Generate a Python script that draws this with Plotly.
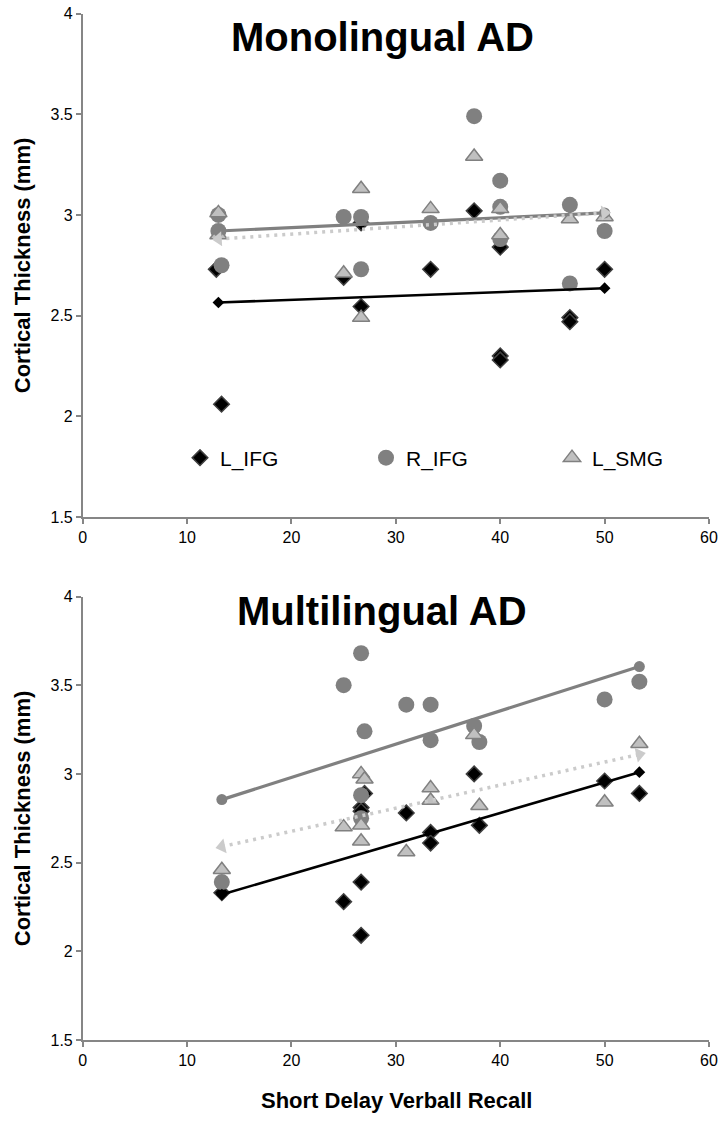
import math
import plotly.graph_objects as go

# ---------------- data ----------------
# Monolingual AD (top panel)
mono_lifg_x = [12.8, 13.3, 25, 26.67, 26.67, 33.33, 37.5, 40, 40, 40, 46.67, 46.67, 50]
mono_lifg_y = [2.73, 2.06, 2.69, 2.96, 2.545, 2.73, 3.02, 2.84, 2.30, 2.28, 2.49, 2.47, 2.73]
mono_rifg_x = [13, 13, 13.3, 25, 26.67, 26.67, 33.33, 37.5, 40, 40, 40, 46.67, 46.67, 50]
mono_rifg_y = [3.0, 2.92, 2.75, 2.99, 2.99, 2.73, 2.96, 3.49, 3.17, 3.04, 2.88, 3.05, 2.66, 2.92]
mono_lsmg_x = [13, 13, 25, 26.67, 26.67, 33.33, 37.5, 40, 40, 46.67, 50]
mono_lsmg_y = [3.01, 2.90, 2.71, 3.13, 2.49, 3.03, 3.29, 3.03, 2.90, 2.98, 2.99]
mono_fit_x = [13, 50]
mono_lifg_fit = [2.565, 2.636]
mono_rifg_fit = [2.92, 3.01]
mono_lsmg_fit = [2.88, 3.01]

# Multilingual AD (bottom panel)
multi_lifg_x = [13.33, 25, 26.67, 26.67, 27, 26.67, 26.67, 31, 33.33, 33.33, 37.5, 38, 50, 53.33]
multi_lifg_y = [2.33, 2.28, 2.81, 2.79, 2.89, 2.39, 2.09, 2.78, 2.67, 2.61, 3.0, 2.71, 2.96, 2.89]
multi_rifg_x = [13.33, 25, 26.67, 27, 26.67, 26.67, 31, 33.33, 33.33, 37.5, 38, 50, 53.33]
multi_rifg_y = [2.39, 3.50, 3.68, 3.24, 2.88, 2.75, 3.39, 3.39, 3.19, 3.27, 3.18, 3.42, 3.52]
multi_lsmg_x = [13.33, 25, 26.67, 27, 26.67, 26.67, 31, 33.33, 33.33, 37.5, 38, 50, 53.33]
multi_lsmg_y = [2.46, 2.70, 3.0, 2.97, 2.71, 2.62, 2.56, 2.92, 2.85, 3.22, 2.82, 2.84, 3.17]
multi_fit_x = [13.33, 53.33]
multi_lifg_fit = [2.32, 3.01]
multi_rifg_fit = [2.855, 3.605]
multi_lsmg_fit = [2.59, 3.11]

series_names = ["L_IFG", "R_IFG", "L_SMG"]
panel_titles = ["Monolingual AD", "Multilingual AD"]
x_ticks = [0, 10, 20, 30, 40, 50, 60]
y_ticks = [1.5, 2, 2.5, 3, 3.5, 4]
y_title = "Cortical Thickness (mm)"
x_title = "Short Delay Verball Recall"

# ---------------- layout geometry ----------------
W, H = 721, 1125
X_LEFT, X_RIGHT = 82.7, 709     # pixel columns for x=0 and x=60
TOP_Y0, TOP_Y1 = 13.5, 517      # pixel rows for y=4 and y=1.5
BOT_Y0, BOT_Y1 = 596.5, 1040
XR = [0, 60]
YR = [1.5, 4]

FONT = "Liberation Sans, Arial, Helvetica, sans-serif"
AXIS_GRAY = "#868686"
C_DARK = "#000000"
C_MID = "#808080"
C_LIGHT = "#c0c0c0"
C_DOT = "#cbcbcb"

fig = go.Figure()


def add_panel(xa, ya, lifg, rifg, lsmg, fit_x, fits, show_legend, py0, py1):
    (lx, ly), (rx, ry), (sx, sy) = lifg, rifg, lsmg
    fit_l, fit_r, fit_s = fits
    fig.add_trace(go.Scatter(
        x=lx, y=ly, mode="markers", name=series_names[0], xaxis=xa, yaxis=ya,
        showlegend=show_legend, legendgroup="a",
        marker=dict(symbol="diamond", size=12, color=C_DARK,
                    line=dict(color="#404040", width=1.5))))
    fig.add_trace(go.Scatter(
        x=rx, y=ry, mode="markers", name=series_names[1], xaxis=xa, yaxis=ya,
        showlegend=show_legend, legendgroup="b",
        marker=dict(symbol="circle", size=16, color=C_MID,
                    line=dict(color=C_MID, width=0))))
    fig.add_trace(go.Scatter(
        x=sx, y=sy, mode="markers", name=series_names[2], xaxis=xa, yaxis=ya,
        showlegend=show_legend, legendgroup="c",
        marker=dict(symbol="triangle-up", size=15, color=C_LIGHT,
                    line=dict(color=C_MID, width=1.5))))
    # fitted lines
    fig.add_trace(go.Scatter(
        x=fit_x, y=fit_r, mode="lines+markers", xaxis=xa, yaxis=ya, showlegend=False,
        line=dict(color=C_MID, width=3.2),
        marker=dict(symbol="circle", size=11, color=C_MID)))
    fig.add_trace(go.Scatter(
        x=fit_x, y=fit_l, mode="lines+markers", xaxis=xa, yaxis=ya, showlegend=False,
        line=dict(color=C_DARK, width=2.6),
        marker=dict(symbol="diamond", size=9, color=C_DARK)))
    # dotted line with arrow heads, oriented along the line in pixel space
    ppx = (X_RIGHT - X_LEFT) / (XR[1] - XR[0])
    ppy = (py1 - py0) / (YR[1] - YR[0])
    ang = -math.degrees(math.atan2((fit_s[1] - fit_s[0]) * ppy, (fit_x[1] - fit_x[0]) * ppx))
    fig.add_trace(go.Scatter(
        x=fit_x, y=fit_s, mode="lines", xaxis=xa, yaxis=ya, showlegend=False,
        line=dict(color=C_DOT, width=3.5, dash="3px,5px")))
    fig.add_trace(go.Scatter(
        x=fit_x, y=fit_s, mode="markers", xaxis=xa, yaxis=ya, showlegend=False,
        marker=dict(symbol=["triangle-left", "triangle-right"], size=13,
                    color=C_DOT, angle=[ang, ang])))


add_panel("x", "y", (mono_lifg_x, mono_lifg_y), (mono_rifg_x, mono_rifg_y),
          (mono_lsmg_x, mono_lsmg_y), mono_fit_x,
          (mono_lifg_fit, mono_rifg_fit, mono_lsmg_fit), True, TOP_Y0, TOP_Y1)
add_panel("x2", "y2", (multi_lifg_x, multi_lifg_y), (multi_rifg_x, multi_rifg_y),
          (multi_lsmg_x, multi_lsmg_y), multi_fit_x,
          (multi_lifg_fit, multi_rifg_fit, multi_lsmg_fit), False, BOT_Y0, BOT_Y1)


def pfy(py):
    return 1 - py / H


def pfx(px):
    return px / W


axis_common = dict(showgrid=False, zeroline=False, showline=True, linecolor=AXIS_GRAY,
                   linewidth=1.5, ticks="outside", ticklen=5, tickcolor=AXIS_GRAY,
                   tickwidth=1.5, tickfont=dict(family=FONT, size=16, color="#000000"),
                   ticklabeloverflow="allow", fixedrange=True)

xdom = [pfx(X_LEFT), pfx(X_RIGHT)]
fig.update_layout(
    width=W, height=H, autosize=False,
    margin=dict(l=0, r=0, t=0, b=0, autoexpand=False),
    paper_bgcolor="white", plot_bgcolor="white",
    xaxis=dict(domain=xdom, range=XR, tickvals=x_ticks, anchor="y", **axis_common),
    yaxis=dict(domain=[pfy(TOP_Y1), pfy(TOP_Y0)], range=YR, tickvals=y_ticks,
               ticktext=[str(v) for v in y_ticks], anchor="x", **axis_common),
    xaxis2=dict(domain=xdom, range=XR, tickvals=x_ticks, anchor="y2", **axis_common),
    yaxis2=dict(domain=[pfy(BOT_Y1), pfy(BOT_Y0)], range=YR, tickvals=y_ticks,
                ticktext=[str(v) for v in y_ticks], anchor="x2", **axis_common),
    legend=dict(orientation="h", x=pfx(180), xanchor="left", y=pfy(458), yanchor="middle",
                entrywidth=141, entrywidthmode="pixels", itemwidth=30,
                bgcolor="rgba(0,0,0,0)", font=dict(family=FONT, size=21, color="#000000"),
                tracegroupgap=0),
    showlegend=True,
)

annotations = [
    dict(text="<b>%s</b>" % panel_titles[0], x=pfx(382), y=pfy(37), xref="paper", yref="paper",
         showarrow=False, font=dict(family=FONT, size=40, color="#000000"),
         xanchor="center", yanchor="middle"),
    dict(text="<b>%s</b>" % panel_titles[1], x=pfx(382), y=pfy(611), xref="paper", yref="paper",
         showarrow=False, font=dict(family=FONT, size=40, color="#000000"),
         xanchor="center", yanchor="middle"),
    dict(text="<b>%s</b>" % y_title, x=pfx(22), y=pfy((TOP_Y0 + TOP_Y1) / 2), xref="paper",
         yref="paper", showarrow=False, textangle=-90,
         font=dict(family=FONT, size=22, color="#000000"), xanchor="center", yanchor="middle"),
    dict(text="<b>%s</b>" % y_title, x=pfx(22), y=pfy((BOT_Y0 + BOT_Y1) / 2), xref="paper",
         yref="paper", showarrow=False, textangle=-90,
         font=dict(family=FONT, size=22, color="#000000"), xanchor="center", yanchor="middle"),
    dict(text="<b>%s</b>" % x_title, x=pfx(396), y=pfy(1100), xref="paper", yref="paper",
         showarrow=False, font=dict(family=FONT, size=22, color="#000000"),
         xanchor="center", yanchor="middle"),
]
fig.update_layout(annotations=annotations)

# remove the default page margin so the figure fills the 721x1125 window exactly
fig.write_html(
    "out.html",
    config={"displayModeBar": False},
    post_script="document.body.style.margin='0';document.body.style.overflow='hidden';",
)
